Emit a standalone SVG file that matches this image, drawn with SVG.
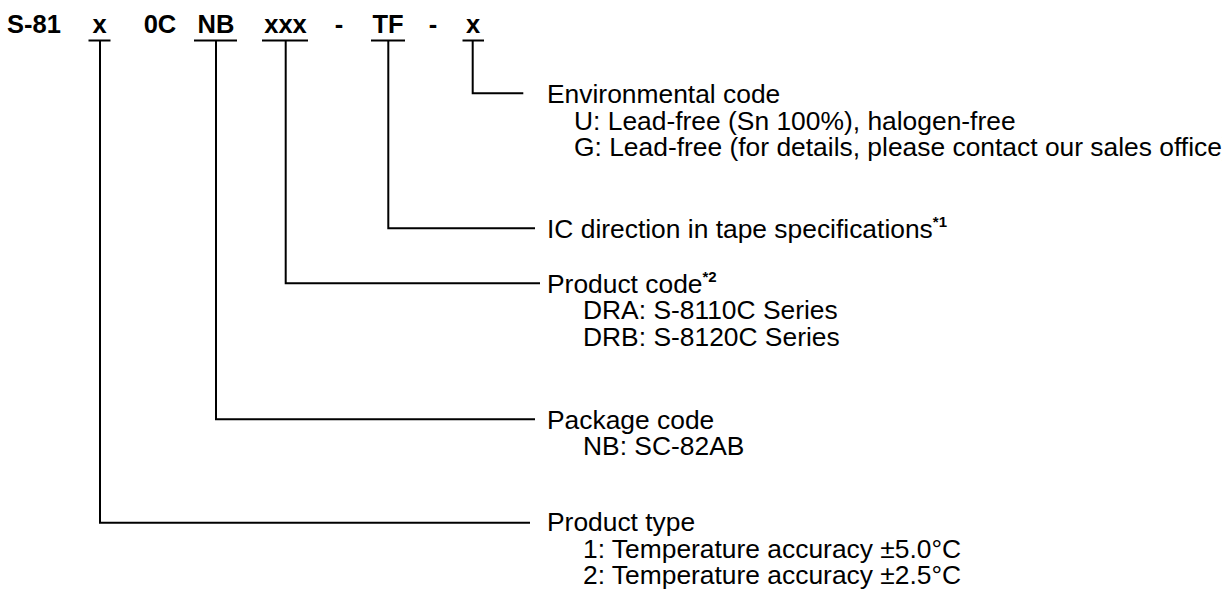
<svg xmlns="http://www.w3.org/2000/svg" width="1222" height="599" viewBox="0 0 1222 599">
<style>
.hd{font-family:"Liberation Sans",Arial,sans-serif;font-weight:bold;font-size:25.5px;fill:#000}
.t{font-family:"Liberation Sans",Arial,sans-serif;font-size:26.4px;fill:#000}
.sup{font-family:"Liberation Sans",Arial,sans-serif;font-weight:bold;font-size:15px;fill:#000}
.ln{fill:none;stroke:#000;stroke-width:2}
</style>
<rect width="1222" height="599" fill="#fff"/>
<g id="header">
<text class="hd" x="7" y="33">S-81</text>
<text class="hd" x="99.5" y="33" text-anchor="middle">x</text>
<text class="hd" x="160" y="33" text-anchor="middle">0C</text>
<text class="hd" x="216" y="33" text-anchor="middle">NB</text>
<text class="hd" x="285.5" y="33" text-anchor="middle">xxx</text>
<text class="hd" x="339" y="33" text-anchor="middle">-</text>
<text class="hd" x="388" y="33" text-anchor="middle">TF</text>
<text class="hd" x="433" y="33" text-anchor="middle">-</text>
<text class="hd" x="473" y="33" text-anchor="middle">x</text>
</g>
<g id="connectors">
<path class="ln" d="M88.5 40.4H110.5M194 40.4H237M262 40.4H308M371 40.4H405M462.5 40.4H484"/>
<path class="ln" d="M472.7 40.4V93.3H523.3"/>
<path class="ln" d="M388.3 40.4V228.3H535"/>
<path class="ln" d="M285.7 40.4V283.3H540"/>
<path class="ln" d="M216 40.4V419.3H535"/>
<path class="ln" d="M100 40.4V522.7H530"/>
</g>
<g id="env">
<text class="t" x="547" y="103">Environmental code</text>
<text class="t" x="574" y="129.5">U: Lead-free (Sn 100%), halogen-free</text>
<text class="t" x="574" y="156">G: Lead-free (for details, please contact our sales office)</text>
</g>
<g id="ic">
<text class="t" x="547" y="237.5">IC direction in tape specifications<tspan class="sup" dy="-11">*1</tspan></text>
</g>
<g id="product-code">
<text class="t" x="547" y="292.5">Product code<tspan class="sup" dy="-11">*2</tspan></text>
<text class="t" x="583" y="319">DRA: S-8110C Series</text>
<text class="t" x="583" y="345.5">DRB: S-8120C Series</text>
</g>
<g id="package">
<text class="t" x="547" y="428.5">Package code</text>
<text class="t" x="583" y="455">NB: SC-82AB</text>
</g>
<g id="product-type">
<text class="t" x="547" y="531">Product type</text>
<text class="t" x="583" y="557.5">1: Temperature accuracy ±5.0°C</text>
<text class="t" x="583" y="584">2: Temperature accuracy ±2.5°C</text>
</g>
</svg>
